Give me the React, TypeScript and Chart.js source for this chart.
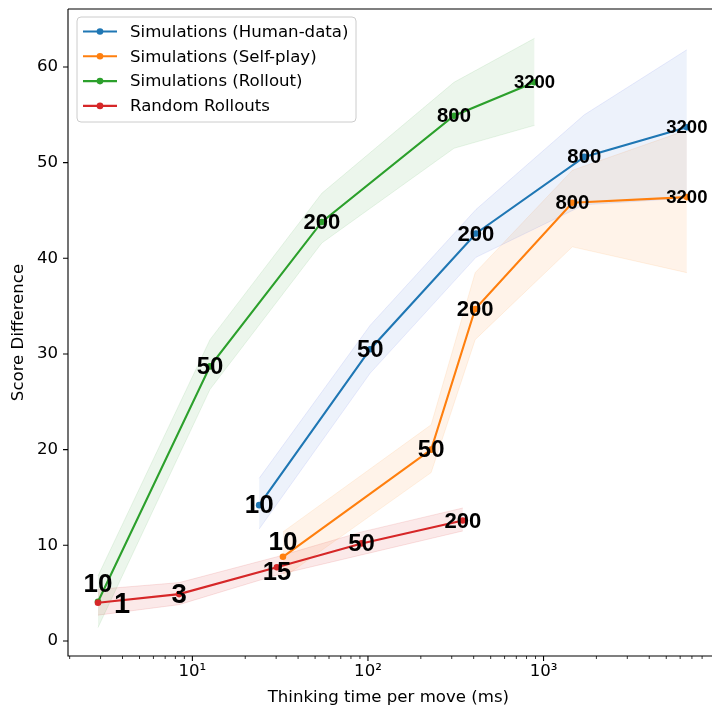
import React, { useEffect, useRef } from 'react';
import { Chart, registerables } from 'chart.js';

Chart.register(...registerables);

// ---------- data ----------
const seriesNames = [
  'Simulations (Human-data)',
  'Simulations (Self-play)',
  'Simulations (Rollout)',
  'Random Rollouts',
];

const humanX = [24, 103, 412, 1706, 6550];
const humanY = [14.2, 30.5, 42.6, 50.6, 53.7];
const humanLo = [11.7, 28.0, 40.1, 45.6, 46.3];
const humanHi = [17.0, 33.0, 45.1, 55.0, 61.8];
const humanLabels = ['10', '50', '200', '800', '3200'];

const selfX = [32.8, 229, 408, 1459, 6550];
const selfY = [8.8, 20.0, 34.7, 45.8, 46.4];
const selfLo = [6.6, 17.6, 31.5, 41.2, 38.5];
const selfHi = [11.4, 22.6, 38.5, 49.2, 53.4];
const selfLabels = ['10', '50', '200', '800', '3200'];

const rolloutX = [2.9, 12.6, 54.6, 309, 889];
const rolloutY = [4.1, 28.7, 43.8, 54.9, 58.4];
const rolloutLo = [1.4, 26.3, 41.6, 51.5, 53.9];
const rolloutHi = [6.8, 31.5, 46.8, 58.4, 63.0];
const rolloutLabels = ['10', '50', '200', '800', '3200'];

const randomX = [2.9, 8.4, 30.3, 92, 347];
const randomY = [4.0, 4.9, 7.7, 10.2, 12.6];
const randomLo = [2.7, 3.8, 6.9, 9.0, 11.5];
const randomHi = [5.4, 6.1, 8.8, 11.4, 13.9];
const randomLabels = ['1', '3', '15', '50', '200'];

const yTicks = [0, 10, 20, 30, 40, 50, 60];
const xMajorTicks = [10, 100, 1000];
const xMinorTicks = [2, 3, 4, 5, 6, 7, 8, 9, 20, 30, 40, 50, 60, 70, 80, 90, 200, 300, 400, 500, 600, 700, 800, 900, 2000, 3000, 4000, 5000, 6000, 7000, 8000];

// ---------- styles ----------
const lineColors = ['#1f77b4', '#ff7f0e', '#2ca02c', '#d62728'];
const bandFills = ['rgba(50,110,215,0.09)', 'rgba(255,127,14,0.09)', 'rgba(44,160,44,0.09)', 'rgba(214,39,40,0.10)'];
const bandEdges = ['rgba(90,110,235,0.13)', 'rgba(255,127,14,0.10)', 'rgba(44,160,44,0.10)', 'rgba(214,39,40,0.12)'];
// pixel nudges for labels that sit on top of each other
const labelNudges = [
  [[0, 0], [0, 0], [0, 0], [0, 0], [0, 0]],
  [[0, -15], [0, 0], [0, 0], [0, 0], [0, 0]],
  [[0, -18], [0, 0], [0, 0], [0, 0], [0, 0]],
  [[24, 1], [0, 0], [0, 5], [0, 0], [0, 0]],
];

const SUP: Record<string, string> = { '0': '⁰', '1': '¹', '2': '²', '3': '³', '4': '⁴' };
const FONT = '"DejaVu Sans", sans-serif';
const FS = 16.6;

const series = [
  { x: humanX, y: humanY, lo: humanLo, hi: humanHi, labels: humanLabels },
  { x: selfX, y: selfY, lo: selfLo, hi: selfHi, labels: selfLabels },
  { x: rolloutX, y: rolloutY, lo: rolloutLo, hi: rolloutHi, labels: rolloutLabels },
  { x: randomX, y: randomY, lo: randomLo, hi: randomHi, labels: randomLabels },
];

const pts = (xs: number[], ys: number[]) => xs.map((x, i) => ({ x, y: ys[i] }));

const labelPlugin = {
  id: 'pointLabels',
  afterDatasetsDraw(chart: any) {
    const ctx = chart.ctx;
    ctx.save();
    ctx.fillStyle = '#000';
    ctx.textAlign = 'center';
    ctx.textBaseline = 'middle';
    chart.data.datasets.forEach((ds: any, di: number) => {
      if (ds.seriesIndex === undefined || !ds.isMain) return;
      const meta = chart.getDatasetMeta(di);
      const s = series[ds.seriesIndex];
      meta.data.forEach((el: any, j: number) => {
        const n = parseFloat(s.labels[j]);
        const size = 29 - 3.0 * Math.log10(n);
        const [dx, dy] = labelNudges[ds.seriesIndex][j];
        ctx.font = `bold ${size.toFixed(1)}px "Liberation Sans", Arial, sans-serif`;
        ctx.fillText(s.labels[j], el.x + dx, el.y + dy + 1);
      });
    });
    ctx.restore();
  },
};

const framePlugin = {
  id: 'frameTicks',
  afterDraw(chart: any) {
    const ctx = chart.ctx;
    const { left, right, top, bottom } = chart.chartArea;
    const xs = chart.scales.x;
    const ys = chart.scales.y;
    ctx.save();
    ctx.strokeStyle = '#000';
    ctx.lineWidth = 1.1;
    ctx.beginPath();
    ctx.moveTo(left, top);
    ctx.lineTo(right + 5, top);
    ctx.moveTo(left, top);
    ctx.lineTo(left, bottom);
    ctx.lineTo(right + 5, bottom);
    yTicks.forEach((v) => {
      const p = ys.getPixelForValue(v);
      ctx.moveTo(left - 5, p);
      ctx.lineTo(left, p);
    });
    xMajorTicks.forEach((v) => {
      const p = xs.getPixelForValue(v);
      ctx.moveTo(p, bottom);
      ctx.lineTo(p, bottom + 5);
    });
    ctx.stroke();
    ctx.lineWidth = 0.8;
    ctx.beginPath();
    xMinorTicks.forEach((v) => {
      const p = xs.getPixelForValue(v);
      if (p < left || p > right) return;
      ctx.moveTo(p, bottom);
      ctx.lineTo(p, bottom + 3);
    });
    ctx.stroke();

    // legend
    const bx = 77, by = 17, bw = 279, bh = 105, r = 4;
    ctx.beginPath();
    ctx.moveTo(bx + r, by);
    ctx.arcTo(bx + bw, by, bx + bw, by + bh, r);
    ctx.arcTo(bx + bw, by + bh, bx, by + bh, r);
    ctx.arcTo(bx, by + bh, bx, by, r);
    ctx.arcTo(bx, by, bx + bw, by, r);
    ctx.closePath();
    ctx.fillStyle = 'rgba(255,255,255,0.8)';
    ctx.fill();
    ctx.strokeStyle = '#cccccc';
    ctx.lineWidth = 1;
    ctx.stroke();
    ctx.font = `${FS}px ${FONT}`;
    ctx.textAlign = 'left';
    ctx.textBaseline = 'middle';
    seriesNames.forEach((name, i) => {
      const yy = 31.5 + i * 24.8;
      ctx.strokeStyle = lineColors[i];
      ctx.lineWidth = 2.1;
      ctx.beginPath();
      ctx.moveTo(83, yy);
      ctx.lineTo(117, yy);
      ctx.stroke();
      ctx.fillStyle = lineColors[i];
      ctx.beginPath();
      ctx.arc(100, yy, 3.3, 0, Math.PI * 2);
      ctx.fill();
      ctx.fillStyle = '#000';
      ctx.fillText(name, 130, yy + 1);
    });
    ctx.restore();
  },
};

export default function App() {
  const ref = useRef<HTMLCanvasElement>(null);
  useEffect(() => {
    document.body.style.margin = '0';
    document.body.style.overflow = 'hidden';
    const datasets: any[] = [];
    series.forEach((s, i) => {
      const loIdx = datasets.length;
      datasets.push({
        data: pts(s.x, s.lo),
        borderColor: bandEdges[i],
        borderWidth: 1,
        pointRadius: 0,
        fill: false,
        order: 20 + i,
        seriesIndex: i,
      });
      datasets.push({
        data: pts(s.x, s.hi),
        borderColor: bandEdges[i],
        backgroundColor: bandFills[i],
        borderWidth: 1,
        pointRadius: 0,
        fill: loIdx,
        order: 20 + i,
        seriesIndex: i,
      });
    });
    series.forEach((s, i) => {
      datasets.push({
        label: seriesNames[i],
        data: pts(s.x, s.y),
        borderColor: lineColors[i],
        backgroundColor: lineColors[i],
        borderWidth: 2.1,
        pointRadius: 3.3,
        pointHoverRadius: 3.3,
        pointBorderWidth: 0,
        fill: false,
        order: 10 - i,
        seriesIndex: i,
        isMain: true,
      });
    });

    const chart = new Chart(ref.current as HTMLCanvasElement, {
      type: 'line',
      data: { datasets },
      options: {
        animation: false,
        responsive: false,
        maintainAspectRatio: false,
        layout: { padding: { left: 0, right: 0, top: 9, bottom: 0 } },
        plugins: { legend: { display: false }, tooltip: { enabled: false } },
        elements: { line: { tension: 0 } },
        scales: {
          x: {
            type: 'logarithmic',
            min: 1.957,
            max: 8723,
            grid: { display: false, drawTicks: false },
            border: { display: false },
            afterBuildTicks: (scale: any) => {
              scale.ticks = xMajorTicks.map((v) => ({ value: v }));
            },
            afterFit: (scale: any) => {
              scale.height = 52;
              scale.paddingLeft = 0;
              scale.paddingRight = 0;
            },
            ticks: {
              padding: 6,
              color: '#000',
              font: { family: FONT, size: FS },
              autoSkip: false,
              maxRotation: 0,
              callback: (v: any) => {
                const e = String(Math.round(Math.log10(Number(v))));
                return '10' + e.split('').map((c) => SUP[c]).join('');
              },
            },
            title: {
              display: true,
              text: 'Thinking time per move (ms)',
              color: '#000',
              font: { family: FONT, size: FS },
              padding: { top: 0, bottom: 0 },
            },
          },
          y: {
            type: 'linear',
            min: -1.57,
            max: 66.06,
            grid: { display: false, drawTicks: false },
            border: { display: false },
            afterBuildTicks: (scale: any) => {
              scale.ticks = yTicks.map((v) => ({ value: v }));
            },
            afterFit: (scale: any) => {
              scale.width = 68;
              scale.paddingTop = 0;
              scale.paddingBottom = 0;
            },
            ticks: {
              padding: 10,
              color: '#000',
              font: { family: FONT, size: FS },
              callback: (v: any) => String(v),
            },
            title: {
              display: true,
              text: 'Score Difference',
              color: '#000',
              font: { family: FONT, size: FS },
              padding: { top: 9, bottom: 0 },
            },
          },
        },
      } as any,
      plugins: [labelPlugin, framePlugin],
    });
    return () => chart.destroy();
  }, []);

  return (
    <div style={{ position: 'fixed', left: 0, top: 0, width: 712, height: 708, background: '#fff' }}>
      <canvas ref={ref} width={712} height={708} style={{ display: 'block' }} />
    </div>
  );
}
